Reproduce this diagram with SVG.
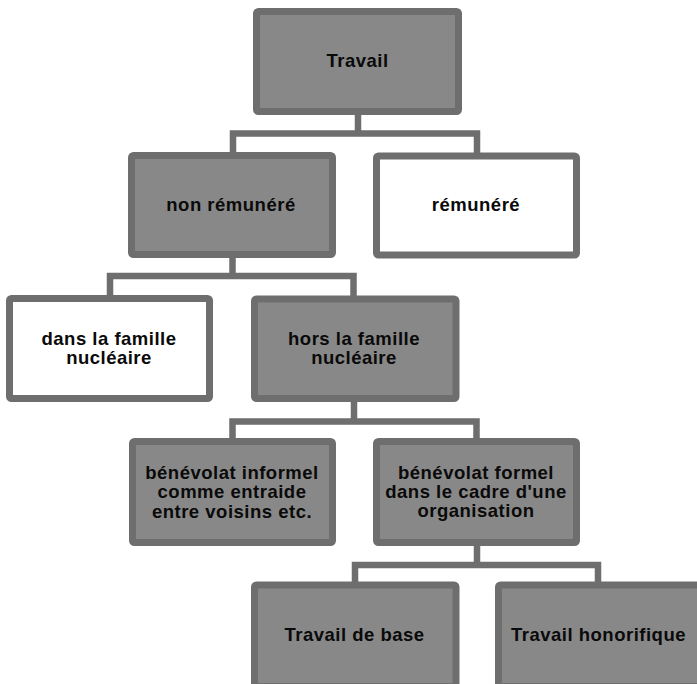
<svg xmlns="http://www.w3.org/2000/svg" width="697" height="684" viewBox="0 0 697 684">
  <style>
    .box { stroke: #6e6e6e; stroke-width: 7; }
    .grey { fill: #888888; }
    .white { fill: #ffffff; }
    .lbl { font-family: "Liberation Sans", Arial, sans-serif; font-weight: bold; font-size: 18.5px; letter-spacing: 0.5px; fill: #0a0a0a; text-anchor: middle; }
    .conn { fill: none; stroke: #6e6e6e; stroke-width: 6.5; stroke-linejoin: miter; stroke-linecap: butt; }
  </style>
  <rect width="697" height="684" fill="#ffffff"/>
  <g id="connectors">
    <path class="conn" d="M358,112 V133.5"/>
    <path class="conn" d="M233,156 V133.5 H477 V156"/>
    <path class="conn" d="M232.5,255 V276"/>
    <path class="conn" d="M110,299 V276 H353.5 V299"/>
    <path class="conn" d="M354,399 V421.5"/>
    <path class="conn" d="M232.5,442 V421.5 H476.5 V442"/>
    <path class="conn" d="M477,543 V565"/>
    <path class="conn" d="M355,585 V565 H598 V585"/>
  </g>
  <g id="travail">
    <rect class="box grey" x="256.5" y="11.5" width="202" height="100" rx="2"/>
    <text class="lbl" x="357.5" y="67">Travail</text>
  </g>
  <g id="non-remunere">
    <rect class="box grey" x="131.5" y="155.5" width="201" height="99" rx="2"/>
    <text class="lbl" x="231" y="211">non rémunéré</text>
  </g>
  <g id="remunere">
    <rect class="box white" x="376.5" y="156" width="200" height="99" rx="2"/>
    <text class="lbl" x="476" y="211">rémunéré</text>
  </g>
  <g id="dans-famille">
    <rect class="box white" x="9.5" y="298.5" width="200" height="100" rx="2"/>
    <text class="lbl" x="109" y="344.5">dans la  famille</text>
    <text class="lbl" x="109" y="364">nucléaire</text>
  </g>
  <g id="hors-famille">
    <rect class="box grey" x="254.5" y="299" width="201.5" height="99.5" rx="2"/>
    <text class="lbl" x="354" y="344.5">hors la famille</text>
    <text class="lbl" x="354" y="364">nucléaire</text>
  </g>
  <g id="benevolat-informel">
    <rect class="box grey" x="132.5" y="441.5" width="200" height="101" rx="2"/>
    <text class="lbl" x="232" y="478.5">bénévolat informel</text>
    <text class="lbl" x="232" y="498">comme  entraide</text>
    <text class="lbl" x="232" y="518">entre voisins etc.</text>
  </g>
  <g id="benevolat-formel">
    <rect class="box grey" x="376.5" y="441.5" width="200" height="101" rx="2"/>
    <text class="lbl" x="476" y="479">bénévolat formel</text>
    <text class="lbl" x="476" y="498">dans le cadre d'une</text>
    <text class="lbl" x="476" y="517">organisation</text>
  </g>
  <g id="travail-base">
    <rect class="box grey" x="254.5" y="585" width="201.5" height="101.5" rx="2"/>
    <text class="lbl" x="354.5" y="640.5">Travail de base</text>
  </g>
  <g id="travail-honorifique">
    <rect class="box grey" x="498.5" y="585" width="203" height="101.5" rx="2"/>
    <text class="lbl" x="598.5" y="640.5">Travail honorifique</text>
  </g>
</svg>
